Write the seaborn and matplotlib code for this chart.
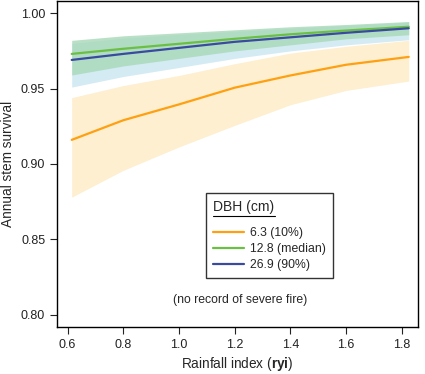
import numpy as np
import pandas as pd
import seaborn as sns
import matplotlib.pyplot as plt
from matplotlib.lines import Line2D

sns.set_style("ticks")
plt.rcParams['font.family'] = ['Liberation Sans', 'DejaVu Sans']
plt.rcParams['mathtext.fontset'] = 'custom'
plt.rcParams['mathtext.rm'] = 'Liberation Sans'
plt.rcParams['mathtext.bf'] = 'Liberation Sans:bold'

# rainfall index where curves were read
ryi = [0.615, 0.8, 1.0, 1.2, 1.4, 1.6, 1.825]

# DBH 6.3 cm (10%)
small_fit = [0.916, 0.929, 0.9395, 0.9506, 0.9587, 0.9658, 0.971]
small_lo = [0.878, 0.8958, 0.9113, 0.9256, 0.9393, 0.9488, 0.955]
small_hi = [0.944, 0.952, 0.9587, 0.9665, 0.9735, 0.978, 0.982]

# DBH 12.8 cm (median)
med_fit = [0.973, 0.9764, 0.9797, 0.983, 0.986, 0.9885, 0.991]
med_lo = [0.959, 0.965, 0.970, 0.975, 0.979, 0.983, 0.9857]
med_hi = [0.982, 0.985, 0.987, 0.989, 0.991, 0.9925, 0.9945]

# DBH 26.9 cm (90%)
big_fit = [0.969, 0.973, 0.977, 0.981, 0.984, 0.987, 0.990]
big_lo = [0.951, 0.958, 0.964, 0.970, 0.975, 0.979, 0.9824]
big_hi = [0.980, 0.9835, 0.986, 0.988, 0.990, 0.992, 0.994]

labels = ["6.3 (10%)", "12.8 (median)", "26.9 (90%)"]
line_cols = ["#FFA012", "#6CBF45", "#3A4A9E"]

df = pd.DataFrame({
    "ryi": ryi * 3,
    "surv": small_fit + med_fit + big_fit,
    "dbh": [labels[0]] * 7 + [labels[1]] * 7 + [labels[2]] * 7,
})

fig, ax = plt.subplots(figsize=(4.25, 3.74), dpi=100)
fig.subplots_adjust(left=0.134, right=0.984, top=0.997, bottom=0.126)

ax.fill_between(ryi, small_lo, small_hi, color="#FDEFCF", lw=0)
ax.fill_between(ryi, big_lo, big_hi, color="#D4EBF4", lw=0)
ax.fill_between(ryi, med_lo, med_hi, color="#A8D9B8", lw=0, alpha=0.8)

sns.lineplot(data=df, x="ryi", y="surv", hue="dbh", palette=line_cols,
             lw=1.6, ax=ax, legend=False)

ax.set_xlim(0.562, 1.859)
ax.set_ylim(0.792, 1.008)
ax.set_xticks(np.arange(0.6, 1.81, 0.2))
ax.set_xticklabels(["0.6", "0.8", "1.0", "1.2", "1.4", "1.6", "1.8"])
ax.set_yticks([0.80, 0.85, 0.90, 0.95, 1.00])
ax.set_yticklabels(["0.80", "0.85", "0.90", "0.95", "1.00"])
ax.tick_params(labelsize=9, length=5, width=0.8, color="#222222", pad=3.5,
               labelcolor="#222222")
for s in ax.spines.values():
    s.set_visible(True)
    s.set_linewidth(1.0)
    s.set_color("black")

ax.set_xlabel(r"Rainfall index ($\mathbf{ryi}$)", fontsize=9.8, labelpad=3)
ax.set_ylabel("Annual stem survival", fontsize=9.8, labelpad=4)

ax.text(0.506, 0.083, "(no record of severe fire)", transform=ax.transAxes,
        ha="center", va="center", fontsize=8.8)

handles = [Line2D([], [], color=c, lw=1.6) for c in line_cols]
leg = ax.legend(handles, labels, title="DBH (cm)", loc="upper left",
                bbox_to_anchor=(0.413, 0.411), fontsize=8.8, title_fontsize=10,
                frameon=True, fancybox=False, edgecolor="black",
                handlelength=2.5, handletextpad=0.5, labelspacing=0.33,
                borderpad=0.6, borderaxespad=0)
leg.get_frame().set_linewidth(1.0)
leg._legend_box.align = "left"
leg._legend_box.sep = 9

# underline the legend title
fig.canvas.draw()
r = fig.canvas.get_renderer()
bb = leg.get_title().get_window_extent(r)
inv = ax.transAxes.inverted()
(x0, y0), (x1, y1) = inv.transform([[bb.x0, bb.y0], [bb.x1, bb.y1]])
ax.plot([x0, x1], [y0 - 0.006, y0 - 0.006], color="black", lw=0.8,
        transform=ax.transAxes, clip_on=False, zorder=10)

fig.savefig("out.png", dpi=100)
